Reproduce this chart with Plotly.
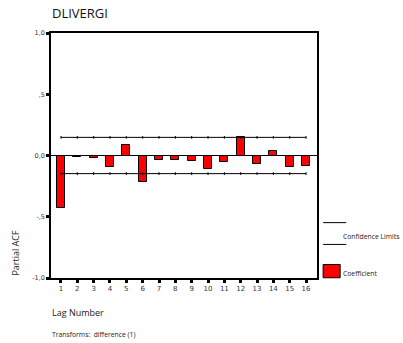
import plotly.graph_objects as go

# Partial autocorrelation of the differenced series
lags = list(range(1, 17))
pacf = [-0.425, -0.01, -0.02, -0.095, 0.088, -0.22, -0.038, -0.038,
        -0.043, -0.109, -0.049, 0.155, -0.07, 0.036, -0.095, -0.087]
conf_limit = 0.148
upper = [conf_limit] * len(lags)
lower = [-conf_limit] * len(lags)

y_tickvals = [-1.0, -0.5, 0.0, 0.5, 1.0]
y_ticktext = ["-1,0", "-,5", "0,0", ",5", "1,0"]

FONT = "Open Sans"
TICKFONT = "DejaVu Sans"

fig = go.Figure()

fig.add_trace(go.Bar(
    x=lags, y=pacf, width=0.5,
    marker=dict(color="#ff0000", line=dict(color="black", width=1)),
    showlegend=False,
))
for lim in (upper, lower):
    fig.add_trace(go.Scatter(
        x=lags, y=lim, mode="lines+markers",
        line=dict(color="black", width=1),
        marker=dict(symbol="line-ns-open", size=2,
                    line=dict(color="#555", width=1)),
        showlegend=False,
    ))

# zero reference line across the whole plot
fig.add_shape(type="line", xref="paper", yref="y", x0=0, x1=1, y0=0, y1=0,
              line=dict(color="black", width=1))

# legend drawn beside the plot
fig.add_shape(type="line", xref="paper", yref="paper", x0=1.023, x1=1.11,
              y0=0.226, y1=0.226, line=dict(color="black", width=1))
fig.add_shape(type="line", xref="paper", yref="paper", x0=1.023, x1=1.11,
              y0=0.137, y1=0.137, line=dict(color="black", width=1))
fig.add_shape(type="rect", xref="paper", yref="paper", x0=1.023, x1=1.087,
              y0=0.001, y1=0.055, fillcolor="#ff0000",
              line=dict(color="black", width=1))
fig.add_annotation(text="Confidence Limits", xref="paper", yref="paper",
                   x=1.09, y=0.169, xanchor="left", yanchor="middle",
                   showarrow=False, font=dict(family=FONT, size=6.8, color="#222"))
fig.add_annotation(text="Coefficient", xref="paper", yref="paper",
                   x=1.09, y=0.017, xanchor="left", yanchor="middle",
                   showarrow=False, font=dict(family=FONT, size=6.8, color="#222"))

# titles and notes
fig.add_annotation(text="DLIVERGI", xref="paper", yref="paper",
                   x=-0.005, y=1.08, xanchor="left", yanchor="middle",
                   showarrow=False, font=dict(family=FONT, size=13, color="#111"))
fig.add_annotation(text="Partial ACF", xref="paper", yref="paper",
                   x=-0.137, y=0.102, xanchor="center", yanchor="middle",
                   textangle=-90, showarrow=False,
                   font=dict(family=FONT, size=9, color="#222"))
fig.add_annotation(text="Lag Number", xref="paper", yref="paper",
                   x=-0.005, y=-0.142, xanchor="left", yanchor="middle",
                   showarrow=False, font=dict(family=FONT, size=9, color="#222"))
fig.add_annotation(text="Transforms:  difference (1)", xref="paper", yref="paper",
                   x=-0.005, y=-0.229, xanchor="left", yanchor="middle",
                   showarrow=False, font=dict(family=FONT, size=6.8, color="#222"))

fig.update_layout(
    width=403, height=343,
    margin=dict(l=51, r=86, t=33, b=65),
    paper_bgcolor="white", plot_bgcolor="white",
    font=dict(family=FONT, size=7, color="#333"),
    bargap=0,
)
fig.update_xaxes(
    range=[0.39, 16.67], tickmode="array", tickvals=lags,
    ticktext=[str(v) for v in lags],
    showline=True, linecolor="black", linewidth=1.5, mirror=True,
    ticks="outside", ticklen=3, tickwidth=3, tickcolor="black",
    showgrid=False, zeroline=False,
    tickfont=dict(family=TICKFONT, size=7, color="#333"),
)
fig.update_yaxes(
    range=[-1.0, 1.0], tickmode="array", tickvals=y_tickvals,
    ticktext=y_ticktext,
    showline=True, linecolor="black", linewidth=1.5, mirror=True,
    ticks="outside", ticklen=3, tickwidth=3, tickcolor="black",
    showgrid=False, zeroline=False,
    tickfont=dict(family=TICKFONT, size=6.5, color="#333"),
)

fig.write_html("out.html")
